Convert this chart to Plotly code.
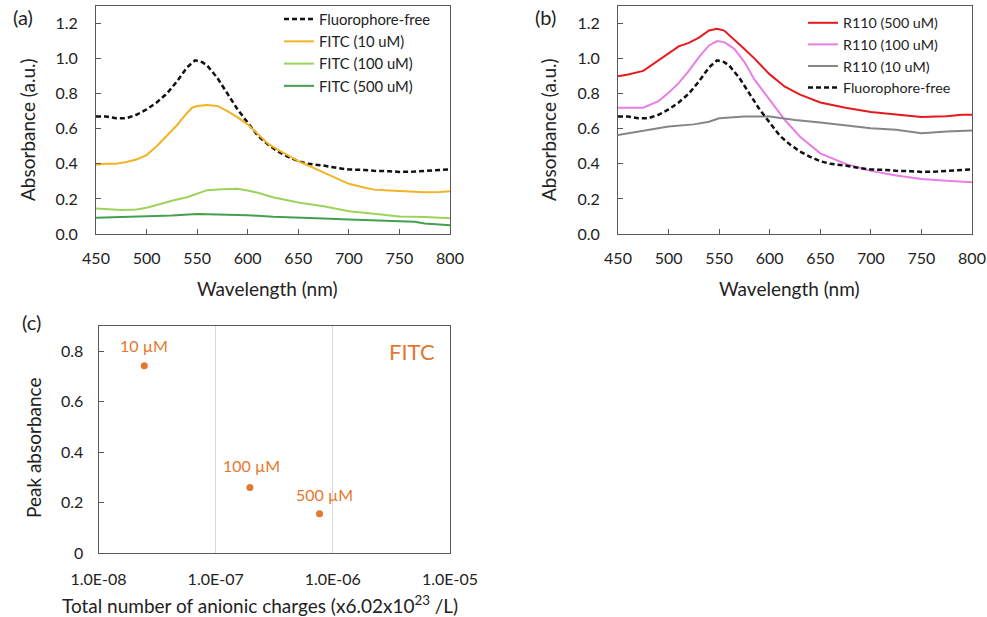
import math
import plotly.graph_objects as go

# ---------------- data: panel (a) ----------------
wl_free = [450,460,470,480,490,500,510,520,530,540,548,555,560,570,580,590,600,610,620,630,640,650,660,675,690,700,715,725,740,750,765,775,790,800]
abs_free = [0.67,0.67,0.66,0.66,0.68,0.71,0.75,0.80,0.87,0.95,0.99,0.98,0.96,0.89,0.80,0.71,0.635,0.56,0.51,0.47,0.44,0.415,0.40,0.39,0.375,0.368,0.365,0.36,0.358,0.354,0.356,0.358,0.365,0.368]

wl_fitc10 = [450,460,470,480,490,500,510,520,530,540,545,550,560,570,580,590,600,610,620,630,640,650,660,675,690,700,715,725,740,750,765,775,790,800]
abs_fitc10 = [0.395,0.40,0.40,0.41,0.425,0.45,0.50,0.56,0.62,0.69,0.72,0.73,0.735,0.73,0.70,0.665,0.625,0.57,0.515,0.48,0.445,0.415,0.39,0.35,0.31,0.286,0.265,0.253,0.248,0.244,0.242,0.238,0.24,0.244]

wl_fitc100 = [450,475,490,500,510,525,540,550,560,575,590,600,610,625,650,675,700,725,750,775,790,800]
abs_fitc100 = [0.145,0.137,0.14,0.15,0.165,0.19,0.21,0.228,0.25,0.255,0.258,0.248,0.235,0.21,0.18,0.158,0.13,0.115,0.10,0.097,0.093,0.09]

wl_fitc500 = [450,475,500,525,550,575,600,625,650,675,700,725,750,765,775,790,800]
abs_fitc500 = [0.092,0.095,0.10,0.105,0.114,0.112,0.107,0.098,0.091,0.088,0.082,0.077,0.072,0.07,0.06,0.052,0.05]

# ---------------- data: panel (b) ----------------
wl_r500 = [450,460,475,490,500,510,520,530,540,548,555,565,575,585,600,615,630,650,675,700,725,750,765,775,790,800]
abs_r500 = [0.90,0.91,0.93,0.99,1.035,1.07,1.09,1.12,1.16,1.17,1.16,1.11,1.055,1.0,0.91,0.84,0.795,0.75,0.72,0.695,0.68,0.667,0.67,0.672,0.68,0.68]

wl_r100 = [450,475,490,500,510,520,530,540,548,555,565,575,585,600,615,630,650,675,700,725,750,775,800]
abs_r100 = [0.72,0.72,0.757,0.805,0.86,0.93,1.008,1.075,1.10,1.094,1.056,0.98,0.88,0.767,0.65,0.555,0.46,0.40,0.36,0.333,0.314,0.304,0.295]

wl_r10 = [450,460,475,490,500,525,540,550,575,600,625,650,675,700,725,750,775,800]
abs_r10 = [0.565,0.575,0.59,0.605,0.613,0.625,0.64,0.66,0.67,0.67,0.65,0.636,0.62,0.603,0.595,0.575,0.585,0.59]

# ---------------- data: panel (c) ----------------
charges = [2.46e-8, 1.96e-7, 7.7e-7]
peak_abs = [0.742, 0.260, 0.156]
conc_labels = ["10 µM", "100 µM", "500 µM"]

wl_ticks = [450, 500, 550, 600, 650, 700, 750, 800]
abs_ticks = [0.0, 0.2, 0.4, 0.6, 0.8, 1.0, 1.2]
abs_ticklabels = ["0.0", "0.2", "0.4", "0.6", "0.8", "1.0", "1.2"]
peak_ticks = [0, 0.2, 0.4, 0.6, 0.8]
peak_ticklabels = ["0", "0.2", "0.4", "0.6", "0.8"]
charge_ticks = [1e-8, 1e-7, 1e-6, 1e-5]
charge_ticklabels = ["1.0E-08", "1.0E-07", "1.0E-06", "1.0E-05"]

FONT = "Lato, 'Open Sans', sans-serif"
TXT = "#222222"
AX = "#595959"
ORANGE = "#E5782E"
W, H = 987, 617

def px(x):
    return x / W

def py(y):
    return 1 - y / H

fig = go.Figure()

# panel (a)
fig.add_trace(go.Scatter(x=wl_free, y=abs_free, name="Fluorophore-free", mode="lines",
                         line=dict(color="#111111", width=2.5, dash="5px,3px"),
                         xaxis="x", yaxis="y", legend="legend"))
fig.add_trace(go.Scatter(x=wl_fitc10, y=abs_fitc10, name="FITC (10 uM)", mode="lines",
                         line=dict(color="#F2B324", width=2),
                         xaxis="x", yaxis="y", legend="legend"))
fig.add_trace(go.Scatter(x=wl_fitc100, y=abs_fitc100, name="FITC (100 uM)", mode="lines",
                         line=dict(color="#9CD35A", width=2),
                         xaxis="x", yaxis="y", legend="legend"))
fig.add_trace(go.Scatter(x=wl_fitc500, y=abs_fitc500, name="FITC (500 uM)", mode="lines",
                         line=dict(color="#45A04E", width=2),
                         xaxis="x", yaxis="y", legend="legend"))

# panel (b)
fig.add_trace(go.Scatter(x=wl_r500, y=abs_r500, name="R110 (500 uM)", mode="lines",
                         line=dict(color="#E8191E", width=2),
                         xaxis="x2", yaxis="y2", legend="legend2"))
fig.add_trace(go.Scatter(x=wl_r100, y=abs_r100, name="R110 (100 uM)", mode="lines",
                         line=dict(color="#E87EE6", width=2),
                         xaxis="x2", yaxis="y2", legend="legend2"))
fig.add_trace(go.Scatter(x=wl_r10, y=abs_r10, name="R110 (10 uM)", mode="lines",
                         line=dict(color="#858585", width=2),
                         xaxis="x2", yaxis="y2", legend="legend2"))
fig.add_trace(go.Scatter(x=wl_free, y=abs_free, name="Fluorophore-free", mode="lines",
                         line=dict(color="#111111", width=2.5, dash="5px,3px"),
                         xaxis="x2", yaxis="y2", legend="legend2"))

# panel (c)
fig.add_trace(go.Scatter(x=charges, y=peak_abs, mode="markers", showlegend=False,
                         marker=dict(color=ORANGE, size=7),
                         xaxis="x3", yaxis="y3"))

tickfont = dict(family=FONT, size=16, color=TXT)
common_x = dict(showline=True, linecolor=AX, linewidth=1, mirror=True, showgrid=False,
                zeroline=False, ticks="inside", ticklen=5, tickcolor=AX, tickfont=tickfont,
                ticklabelstandoff=10, automargin=False)
common_y = dict(showline=True, linecolor=AX, linewidth=1, mirror=True, showgrid=False,
                zeroline=False, ticks="inside", ticklen=5, tickcolor=AX, tickfont=tickfont,
                ticklabelstandoff=14, automargin=False)

fig.update_layout(
    width=W, height=H,
    margin=dict(l=0, r=0, t=0, b=0),
    paper_bgcolor="white", plot_bgcolor="white",
    font=dict(family=FONT, color=TXT),
    xaxis=dict(common_x, domain=[px(96), px(450)], range=[450, 800],
               tickvals=wl_ticks, anchor="y"),
    yaxis=dict(common_y, domain=[py(234), py(6)], range=[0, 1.3],
               tickvals=abs_ticks, ticktext=abs_ticklabels, anchor="x"),
    xaxis2=dict(common_x, domain=[px(618), px(972)], range=[450, 800],
                tickvals=wl_ticks, anchor="y2"),
    yaxis2=dict(common_y, domain=[py(234), py(6)], range=[0, 1.3],
                tickvals=abs_ticks, ticktext=abs_ticklabels, anchor="x2"),
    xaxis3=dict(showline=True, linecolor=AX, linewidth=1, mirror=True, type="log",
                range=[-8, -5], tickvals=charge_ticks, ticktext=charge_ticklabels,
                showgrid=True, gridcolor="#D9D9D9", gridwidth=1, zeroline=False,
                ticks="", tickfont=tickfont, ticklabelstandoff=12, automargin=False,
                domain=[px(98.5), px(450)], anchor="y3"),
    yaxis3=dict(common_y, domain=[py(553), py(326)], range=[0, 0.9],
                tickvals=peak_ticks, ticktext=peak_ticklabels, anchor="x3",
                ticklabelstandoff=11),
    legend=dict(x=px(279), y=py(3), xanchor="left", yanchor="top",
                bgcolor="rgba(0,0,0,0)", font=dict(family=FONT, size=14.8, color=TXT),
                itemwidth=30, tracegroupgap=0),
    legend2=dict(x=px(803), y=py(7), xanchor="left", yanchor="top",
                 bgcolor="rgba(0,0,0,0)", font=dict(family=FONT, size=14.3, color=TXT),
                 itemwidth=30, tracegroupgap=0),
)

ann = []
def note(text, x, y, font, angle=0):
    return dict(text=text, x=px(x), y=py(y), xref="paper", yref="paper",
                xanchor="center", yanchor="middle", showarrow=False,
                textangle=angle, font=font)

# panel letters
lettfont = dict(family=FONT, size=20, color=TXT)
ann.append(note("(a)", 23, 17, lettfont))
ann.append(note("(b)", 545, 17, lettfont))
ann.append(note("(c)", 31, 322, lettfont))
# axis titles
titlefont = dict(family=FONT, size=19, color=TXT)
ann.append(note("Wavelength (nm)", 267, 288, titlefont))
ann.append(note("Wavelength (nm)", 789, 288, titlefont))
ann.append(note("Absorbance (a.u.)", 28, 130, titlefont, -90))
ann.append(note("Absorbance (a.u.)", 549, 130, titlefont, -90))
ann.append(note("Peak absorbance", 33, 448, titlefont, -90))
ann.append(note("Total number of anionic charges (x6.02x10<sup>23</sup> /L)", 260, 604, titlefont))
# point labels in panel (c)
shifts = [(0, 20), (2, 22), (5, 19)]
for xv, yv, lab, (dx, dy) in zip(charges, peak_abs, conc_labels, shifts):
    ann.append(dict(text=lab, x=math.log10(xv), y=yv, xref="x3", yref="y3",
                    xanchor="center", yanchor="middle",
                    xshift=dx, yshift=dy, showarrow=False,
                    font=dict(family=FONT, size=16, color=ORANGE)))
ann.append(note("FITC", 412, 351, dict(family=FONT, size=22, color=ORANGE)))

fig.update_layout(annotations=ann)
fig.write_html("out.html", config={"displayModeBar": False},
               post_script="document.body.style.margin='0';document.body.style.overflow='hidden';")
